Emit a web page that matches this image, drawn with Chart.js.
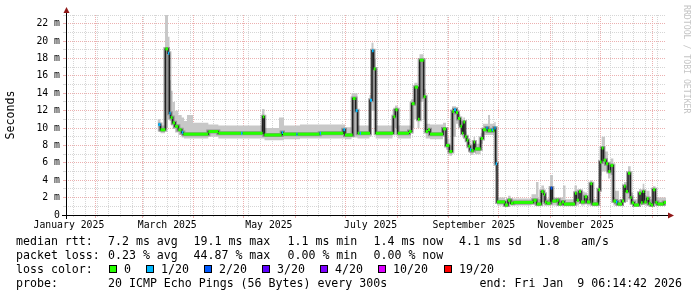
<!DOCTYPE html>
<html>
<head>
<meta charset="utf-8">
<script src="https://cdn.jsdelivr.net/npm/chart.js@4.4.1/dist/chart.umd.min.js"></script>
<style>
  html, body { margin: 0; padding: 0; background: #fff; }
  #wrap { position: relative; width: 697px; height: 297px; overflow: hidden; }
  #c { position: absolute; left: 0; top: 0; }
  .t { position: absolute; font-family: "DejaVu Sans Mono", monospace; font-size: 11.6px; line-height: 14px; color: #000; white-space: pre; }
  .box { position: absolute; width: 6px; height: 6px; border: 1px solid #000; }
  #credit { position: absolute; left: 682px; top: 5px; writing-mode: vertical-rl; font-family: "DejaVu Sans Mono", monospace; font-size: 8.2px; color: #c4c4c4; white-space: nowrap; }
</style>
</head>
<body>
<div id="wrap">
  <canvas id="c" width="697" height="297"></canvas>
  <div id="credit">RRDTOOL / TOBI OETIKER</div>
  <div id="legend"></div>
</div>
<script>
// time axis is in days since the graph start (end - 360 days)
const START = Date.UTC(2025, 0, 14, 6, 14, 42);
const DAY_MS = 86400000;
const SPAN = 360;

// median rtt (ms), step values starting at each day
const medianDay = [
  55.4, 56.7, 59.6, 61.2, 62.0, 62.8, 64.0, 65.4, 67.4, 69.4,
  70.4, 85.4, 91.4, 105.0, 106.0, 118.0, 119.0, 129.4, 130.2, 138.2,
  139.0, 152.2, 153.0, 166.4, 167.4, 172.0, 173.8, 175.0, 176.2, 177.0,
  182.4, 183.6, 184.6, 185.8, 196.4, 197.6, 199.0, 205.8, 207.4, 209.2,
  211.2, 212.2, 214.6, 215.8, 217.2, 218.4, 226.2, 228.0, 230.0, 231.8,
  232.8, 234.0, 235.2, 236.6, 237.6, 238.4, 239.4, 240.4, 241.4, 242.4,
  243.2, 244.6, 245.4, 248.8, 250.2, 252.2, 253.0, 255.4, 256.2, 257.0,
  257.8, 258.6, 263.4, 265.2, 266.8, 268.4, 280.4, 282.4, 285.2, 286.6,
  287.4, 288.4, 290.8, 291.8, 294.4, 295.6, 297.4, 298.8, 305.4, 306.4,
  307.8, 309.0, 311.2, 312.6, 314.6, 315.8, 319.4, 320.4, 321.4, 322.5,
  324.0, 325.4, 326.7, 328.4, 330.0, 330.9, 333.6, 334.8, 335.8, 337.2,
  338.6, 339.4, 340.8, 343.8, 345.0, 346.0, 347.0, 348.4, 349.6, 351.0,
  352.2, 353.6, 354.8, 358.6
];
const medianMs = [
  10.4, 9.8, 19.1, 18.6, 11.7, 11.2, 10.6, 10.2, 9.8, 9.5,
  9.3, 9.6, 9.4, 9.4, 9.4, 11.3, 9.2, 9.5, 9.3, 9.3,
  9.3, 9.4, 9.4, 9.8, 9.2, 13.4, 12.0, 9.4, 9.4, 9.4,
  13.2, 18.9, 16.8, 9.4, 11.3, 12.1, 9.4, 9.6, 12.8, 14.7,
  11.0, 17.8, 13.6, 9.6, 9.8, 9.3, 9.9, 8.0, 7.3, 11.9,
  12.1, 11.8, 11.1, 10.2, 9.4, 10.7, 9.0, 8.6, 7.9, 7.5,
  7.4, 8.4, 7.6, 8.8, 9.8, 10.0, 9.7, 9.8, 9.7, 10.0,
  5.9, 1.5, 1.15, 1.7, 1.35, 1.45, 1.7, 1.26, 2.7, 2.4,
  1.5, 1.35, 3.1, 1.6, 1.7, 1.26, 1.5, 1.26, 2.5, 1.7,
  2.7, 1.5, 2.1, 1.5, 3.6, 1.26, 2.9, 6.1, 7.7, 6.3,
  5.9, 5.0, 5.7, 1.6, 1.5, 1.26, 1.6, 3.3, 2.7, 4.8,
  2.0, 1.4, 1.15, 2.5, 1.4, 2.7, 1.5, 1.9, 1.3, 1.15,
  2.9, 1.45, 1.26, 1.45
];
// lost pings out of 20 for each median step
const medianLoss = [
  1, 0, 0, 1, 1, 0, 0, 0, 0, 1,
  0, 0, 0, 1, 0, 0, 0, 1, 0, 1,
  0, 1, 0, 1, 0, 0, 1, 0, 1, 0,
  1, 1, 0, 0, 0, 0, 0, 0, 0, 0,
  0, 0, 0, 0, 0, 0, 0, 0, 0, 0,
  1, 0, 0, 0, 0, 0, 0, 0, 0, 1,
  0, 0, 0, 0, 0, 1, 0, 1, 0, 1,
  1, 0, 0, 0, 0, 0, 0, 0, 0, 0,
  0, 0, 2, 0, 0, 0, 0, 0, 0, 0,
  0, 0, 0, 0, 0, 0, 0, 0, 0, 0,
  0, 0, 0, 0, 1, 0, 0, 0, 0, 0,
  0, 0, 0, 0, 0, 0, 0, 0, 0, 0,
  0, 0, 0, 0
];

// smoke (spread of the 20 pings), ms
const smokeDay = [
  54.9, 56.7, 59.4, 61.2, 62.1, 63.0, 64.0, 65.4, 67.4, 69.4,
  70.8, 72.6, 76.2, 85.4, 91.4, 117.6, 119.1, 127.8, 130.8, 140.4,
  167.4, 171.3, 174.9, 182.1, 183.3, 184.5, 185.8, 195.9, 197.4, 199.0,
  207.0, 209.0, 210.9, 212.1, 214.5, 215.8, 218.4, 226.2, 228.0, 230.0,
  231.6, 234.0, 235.2, 236.6, 237.6, 238.4, 239.4, 240.4, 241.4, 242.4,
  244.6, 245.4, 248.8, 250.2, 253.2, 254.4, 257.0, 257.8, 258.6, 263.4,
  265.2, 266.8, 279.3, 282.0, 283.5, 285.2, 286.8, 290.4, 292.2, 298.2,
  299.7, 305.1, 306.6, 307.8, 309.0, 311.2, 312.6, 314.4, 315.8, 319.2,
  320.4, 321.4, 323.4, 325.2, 326.7, 328.4, 329.4, 331.8, 334.8, 337.2,
  338.8, 340.2, 343.8, 345.0, 346.0, 347.0, 348.4, 350.1, 352.2, 353.7
];
const smokeLo = [
  9.6, 9.4, 10.0, 11.0, 10.8, 10.3, 9.9, 9.5, 9.2, 8.9,
  8.8, 8.8, 8.8, 9.0, 8.8, 8.8, 8.6, 8.6, 8.7, 8.8,
  8.7, 8.9, 8.8, 9.0, 12.0, 12.0, 8.8, 9.5, 10.0, 8.8,
  10.0, 11.0, 10.0, 13.0, 11.0, 8.8, 8.7, 9.0, 7.5, 6.8,
  9.0, 10.5, 10.3, 9.6, 8.9, 9.6, 8.4, 8.0, 7.2, 6.9,
  7.7, 7.0, 8.2, 9.2, 9.2, 9.2, 9.5, 5.0, 1.1, 0.9,
  1.3, 1.1, 1.2, 1.0, 1.0, 1.5, 1.1, 1.2, 1.1, 1.0,
  1.0, 1.3, 1.1, 1.3, 1.1, 1.2, 1.1, 1.2, 1.0, 1.5,
  4.5, 5.0, 5.0, 4.2, 4.6, 1.1, 1.1, 1.0, 1.5, 2.5,
  1.2, 1.0, 1.3, 1.1, 1.2, 1.1, 1.1, 1.0, 1.3, 1.1
];
const smokeHi = [
  11.0, 10.3, 23.0, 20.5, 15.5, 14.3, 13.0, 12.0, 11.5, 11.2,
  10.8, 11.5, 10.6, 10.4, 10.3, 12.2, 10.0, 11.2, 10.3, 10.4,
  10.1, 14.0, 10.3, 13.8, 19.8, 18.0, 10.3, 12.2, 12.6, 10.3,
  13.3, 15.2, 12.5, 18.5, 14.5, 10.5, 10.4, 10.6, 8.8, 8.0,
  12.5, 12.4, 11.6, 10.8, 10.0, 11.2, 9.6, 9.1, 8.4, 8.0,
  9.0, 8.2, 9.4, 10.5, 11.5, 10.5, 10.7, 6.5, 2.0, 1.6,
  2.2, 1.9, 2.4, 3.8, 1.8, 3.4, 1.9, 4.6, 2.0, 3.4,
  1.8, 3.4, 1.9, 3.0, 2.7, 2.6, 1.9, 4.0, 1.8, 3.4,
  7.5, 9.0, 7.3, 6.0, 6.5, 2.0, 2.8, 1.8, 3.8, 5.6,
  2.6, 1.8, 3.0, 1.9, 3.6, 2.2, 2.8, 1.8, 3.3, 2.0
];

const lossSteps = [0, 1, 2, 3, 4, 10, 19];
const lossNames = ['0', '1/20', '2/20', '3/20', '4/20', '10/20', '19/20'];
const lossColors = ['#26ff00', '#00b8ff', '#0059ff', '#5e00ff', '#7e00ff', '#dd00ff', '#ff0000'];

// x axis: month grid, weekly grid, labels every 2 months
const monthStarts = ['2025-02-01', '2025-03-01', '2025-04-01', '2025-05-01', '2025-06-01', '2025-07-01',
  '2025-08-01', '2025-09-01', '2025-10-01', '2025-11-01', '2025-12-01', '2026-01-01'];
const firstSunday = '2025-01-19';
const labelMonths = ['2025-01-01', '2025-03-01', '2025-05-01', '2025-07-01', '2025-09-01', '2025-11-01'];
const labelNames = ['January 2025', 'March 2025', 'May 2025', 'July 2025', 'September 2025', 'November 2025'];

const toDay = (s) => (Date.parse(s + 'T00:00:00Z') - START) / DAY_MS;
const monthTicks = monthStarts.map(toDay);
const weekTicks = [];
for (let d = toDay(firstSunday); d < SPAN; d += 7) weekTicks.push(d);
const labelTicks = labelMonths.map((s) => toDay(s) + 15);

const GRID = '#d6d6d6';
const MGRID = '#ecb0b0';
const MONO = 'DejaVu Sans Mono';

// datasets built from the arrays above
const median = medianDay.map((d, i) => ({ x: d, y: medianMs[i] }));
median.push({ x: SPAN, y: medianMs[medianMs.length - 1] });
const smokeLow = smokeDay.map((d, i) => ({ x: d, y: smokeLo[i] }));
smokeLow.push({ x: SPAN, y: smokeLo[smokeLo.length - 1] });
const smokeHigh = smokeDay.map((d, i) => ({ x: d, y: smokeHi[i] }));
smokeHigh.push({ x: SPAN, y: smokeHi[smokeHi.length - 1] });

// loss coloured pieces: only the flat part of each step
const lossPieces = [];
medianDay.forEach((d, i) => {
  const end = i + 1 < medianDay.length ? medianDay[i + 1] : SPAN;
  lossPieces.push({ x: d, y: medianMs[i] }, { x: end, y: medianMs[i] }, { x: end, y: null });
});
const lossColor = (n) => lossColors[lossSteps.indexOf(n)];

const rrdAxes = {
  id: 'rrdAxes',
  afterDatasetsDraw(chart) {
    const { ctx, chartArea: a } = chart;
    ctx.save();
    ctx.strokeStyle = '#000';
    ctx.lineWidth = 1;
    ctx.beginPath();
    ctx.moveTo(a.left - 4, a.bottom + 0.5);
    ctx.lineTo(a.right + 4, a.bottom + 0.5);
    ctx.moveTo(a.left + 0.5, a.bottom + 4);
    ctx.lineTo(a.left + 0.5, a.top - 4);
    ctx.stroke();
    ctx.fillStyle = '#901818';
    ctx.beginPath();
    ctx.moveTo(a.right + 2, a.bottom - 2.5);
    ctx.lineTo(a.right + 8, a.bottom + 0.5);
    ctx.lineTo(a.right + 2, a.bottom + 3.5);
    ctx.closePath();
    ctx.fill();
    ctx.beginPath();
    ctx.moveTo(a.left - 2.5, a.top - 2);
    ctx.lineTo(a.left + 0.5, a.top - 8);
    ctx.lineTo(a.left + 3.5, a.top - 2);
    ctx.closePath();
    ctx.fill();
    ctx.restore();
  }
};

const hiddenX = (ticks, color, len) => ({
  type: 'linear',
  position: 'bottom',
  min: 0,
  max: SPAN,
  weight: 0,
  afterBuildTicks: (s) => { s.ticks = ticks.map((v) => ({ value: v })); },
  afterFit: (s) => { s.height = 0; },
  ticks: { display: false },
  grid: { color: color, tickColor: color, tickLength: len, drawTicks: true },
  border: { display: false, dash: [1, 1] }
});

new Chart(document.getElementById('c'), {
  type: 'line',
  data: {
    datasets: [
      {
        data: lossPieces,
        borderColor: lossColors[0],
        borderWidth: 3,
        borderCapStyle: 'butt',
        spanGaps: false,
        segment: { borderColor: (c) => lossColor(medianLoss[Math.floor(c.p0DataIndex / 3)]) }
      },
      { data: median, stepped: true, borderColor: '#202020', borderWidth: 1.5 },
      { data: median, stepped: true, borderColor: 'rgba(80,80,80,0.45)', borderWidth: 4 },
      { data: smokeHigh, stepped: true, borderWidth: 0, borderColor: 'rgba(0,0,0,0)', backgroundColor: '#c8c8c8', fill: '+1' },
      { data: smokeLow, stepped: true, borderWidth: 0, borderColor: 'rgba(0,0,0,0)' }
    ]
  },
  options: {
    responsive: false,
    animation: false,
    devicePixelRatio: 1,
    layout: { padding: { left: 0, right: 31, top: 15, bottom: 0 } },
    elements: { point: { radius: 0 }, line: { tension: 0 } },
    plugins: { legend: { display: false }, tooltip: { enabled: false } },
    scales: {
      x: hiddenX(weekTicks, GRID, 2),
      xm: hiddenX(monthTicks, MGRID, 3),
      xl: {
        type: 'linear',
        position: 'bottom',
        min: 0,
        max: SPAN,
        weight: 5,
        afterBuildTicks: (s) => { s.ticks = labelTicks.map((v) => ({ value: v })); },
        afterFit: (s) => { s.height = 297 - 215; },
        ticks: {
          autoSkip: false,
          maxRotation: 0,
          padding: 5,
          color: '#000',
          font: { family: MONO, size: 9.8 },
          callback: (v, i) => labelNames[i]
        },
        grid: { display: false, drawTicks: false },
        border: { display: false }
      },
      y: {
        type: 'linear',
        min: 0,
        max: 23,
        afterFit: (s) => { s.width = 66; },
        ticks: {
          stepSize: 1,
          autoSkip: false,
          padding: 3,
          color: '#000',
          font: { family: MONO, size: 9.8 },
          callback: (v) => (v === 0 ? '0' : (v % 2 === 0 ? v + ' m' : ''))
        },
        grid: {
          color: (c) => (c.tick && c.tick.value % 2 === 0 ? MGRID : GRID),
          tickColor: (c) => (c.tick && c.tick.value % 2 === 0 ? MGRID : GRID),
          tickLength: 3
        },
        border: { display: false, dash: [1, 1] },
        title: { display: true, text: 'Seconds', color: '#000', font: { family: MONO, size: 11.6 } }
      }
    }
  },
  plugins: [rrdAxes]
});

// legend text under the graph
const legend = document.getElementById('legend');
const put = (x, y, text, right) => {
  const el = document.createElement('div');
  el.className = 't';
  el.style.top = y + 'px';
  if (right) el.style.right = x + 'px'; else el.style.left = x + 'px';
  el.textContent = text;
  legend.appendChild(el);
};
const rows = [234, 248, 262, 276];
put(16, rows[0], 'median rtt:');
put(108, rows[0], '7.2 ms avg');
put(193.5, rows[0], '19.1 ms max');
put(287.5, rows[0], '1.1 ms min');
put(373.5, rows[0], '1.4 ms now');
put(459, rows[0], '4.1 ms sd');
put(538.5, rows[0], '1.8');
put(581, rows[0], 'am/s');
put(16, rows[1], 'packet loss:');
put(108, rows[1], '0.23 % avg');
put(193.5, rows[1], '44.87 % max');
put(287.5, rows[1], '0.00 % min');
put(373.5, rows[1], '0.00 % now');
put(16, rows[2], 'loss color:');
const boxX = [109, 146, 204, 262, 320, 378, 444];
lossNames.forEach((name, i) => {
  const b = document.createElement('div');
  b.className = 'box';
  b.style.left = boxX[i] + 'px';
  b.style.top = '265px';
  b.style.background = lossColors[i];
  legend.appendChild(b);
  put(boxX[i] + 15, rows[2], name);
});
put(16, rows[3], 'probe:');
put(108, rows[3], '20 ICMP Echo Pings (56 Bytes) every 300s');
put(15, rows[3], 'end: Fri Jan  9 06:14:42 2026', true);
</script>
</body>
</html>
